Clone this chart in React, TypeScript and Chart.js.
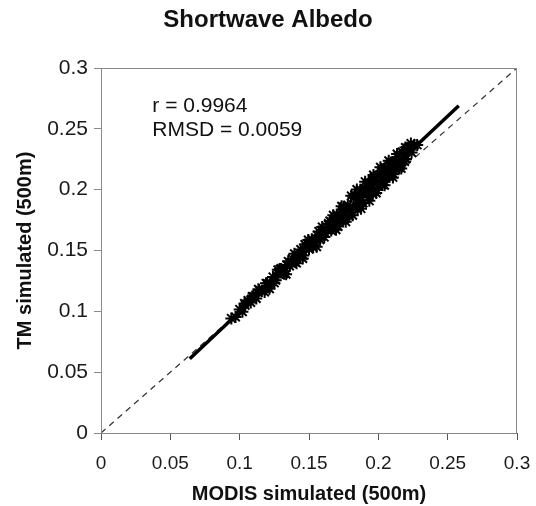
import React, { useEffect, useRef } from "react";
import { Chart, registerables } from "chart.js";

Chart.register(...registerables);

const TITLE = "Shortwave Albedo";
const X_TITLE = "MODIS simulated (500m)";
const Y_TITLE = "TM simulated (500m)";
const STATS = ["r = 0.9964", "RMSD = 0.0059"];
const AXIS_MIN = 0;
const AXIS_MAX = 0.3;
const AXIS_STEP = 0.05;

// scatter samples (MODIS simulated, TM simulated)
const MODIS = [
  0.094, 0.097, 0.1, 0.102, 0.104, 0.106, 0.108, 0.11, 0.112, 0.114, 0.116, 0.118,
  0.12, 0.122, 0.124, 0.126, 0.128, 0.13, 0.132, 0.134, 0.136, 0.138, 0.14, 0.142,
  0.144, 0.146, 0.148, 0.15, 0.152, 0.154, 0.156, 0.158, 0.16, 0.162, 0.164, 0.166,
  0.168, 0.17, 0.172, 0.174, 0.176, 0.178, 0.18, 0.182, 0.184, 0.186, 0.188, 0.19,
  0.192, 0.194, 0.196, 0.198, 0.2, 0.202, 0.204, 0.206, 0.208, 0.21, 0.212, 0.214,
  0.216, 0.218, 0.22, 0.222, 0.224, 0.226, 0.228,
  0.171, 0.175, 0.179, 0.183, 0.185, 0.187, 0.189, 0.191, 0.193, 0.195, 0.197, 0.199,
  0.201, 0.203, 0.205, 0.207, 0.209, 0.211, 0.213, 0.215, 0.217, 0.219, 0.221,
  0.135, 0.141, 0.147, 0.153, 0.157, 0.161, 0.165, 0.125, 0.129, 0.119, 0.109,
  0.1805, 0.1815, 0.1845, 0.1875, 0.1905, 0.1935, 0.1965, 0.1985, 0.2015, 0.2045, 0.2075,
  0.2105, 0.2135, 0.2165, 0.2195, 0.2235, 0.1735, 0.1765, 0.1695, 0.1675, 0.1595, 0.1555,
  0.1495, 0.1455, 0.1395, 0.1335, 0.1275, 0.1215, 0.1135, 0.1035,
];
const TM = [
  0.0942, 0.0954, 0.1016, 0.0997, 0.1049, 0.109, 0.1072, 0.1123, 0.1105, 0.1176, 0.1168, 0.1159,
  0.123, 0.1222, 0.1283, 0.1255, 0.1306, 0.1348, 0.1309, 0.138, 0.1372, 0.1433, 0.1405, 0.1456,
  0.1508, 0.1459, 0.1531, 0.1512, 0.1593, 0.1565, 0.1626, 0.1588, 0.1659, 0.1641, 0.1722, 0.1664,
  0.1735, 0.1796, 0.1738, 0.1819, 0.1761, 0.1872, 0.1834, 0.1935, 0.1856, 0.1938, 0.1889, 0.2011,
  0.1962, 0.2044, 0.1965, 0.2077, 0.2038, 0.2149, 0.2071, 0.2152, 0.2104, 0.2215, 0.2177, 0.2268,
  0.22, 0.2291, 0.2252, 0.2344, 0.2305, 0.2367, 0.2368,
  0.1697, 0.186, 0.1783, 0.1956, 0.1837, 0.1999, 0.189, 0.2002, 0.2063, 0.1974, 0.2106, 0.1997,
  0.2119, 0.204, 0.2182, 0.2113, 0.2224, 0.2126, 0.2237, 0.2179, 0.231, 0.2232, 0.2343,
  0.1411, 0.1396, 0.155, 0.1524, 0.1657, 0.161, 0.1743, 0.1234, 0.1347, 0.123, 0.1122,
  0.1949, 0.179, 0.2002, 0.1844, 0.2066, 0.1908, 0.212, 0.1972, 0.2184, 0.2036, 0.2238,
  0.2101, 0.2293, 0.2175, 0.2347, 0.238, 0.1864, 0.1736, 0.1671, 0.179, 0.1694, 0.1531,
  0.1587, 0.1434, 0.1474, 0.1305, 0.1341, 0.1186, 0.1181, 0.1064,
];

// regression line end points
const FIT_X = [0.064, 0.258];
const FIT_Y = [0.061, 0.269];
// 1:1 line
const ONE_X = [0, 0.3];
const ONE_Y = [0, 0.3];

const FONT = "'Liberation Sans', Arial, sans-serif";

export default function App() {
  const ref = useRef<HTMLCanvasElement | null>(null);

  useEffect(() => {
    if (!ref.current) return;

    const overlay = {
      id: "overlay",
      afterDraw(chart: any) {
        const { ctx, chartArea } = chart;
        ctx.save();
        ctx.strokeStyle = "#8a8a8a";
        ctx.lineWidth = 1;
        ctx.strokeRect(chartArea.left + 0.5, chartArea.top + 0.5, chartArea.right - chartArea.left - 1, chartArea.bottom - chartArea.top);
        ctx.fillStyle = "#111";
        ctx.textAlign = "center";
        ctx.textBaseline = "middle";
        ctx.font = `bold 24px ${FONT}`;
        ctx.fillText(TITLE, 268, 20);
        ctx.font = `21px ${FONT}`;
        ctx.textAlign = "left";
        const xs = chart.scales.x;
        const ys = chart.scales.y;
        const tx = xs.getPixelForValue(0.037);
        ctx.fillText(STATS[0], tx, ys.getPixelForValue(0.2688));
        ctx.fillText(STATS[1], tx, ys.getPixelForValue(0.249));
        ctx.restore();
      },
    };

    const fmt = (v: any) => String(parseFloat(Number(v).toFixed(2)));

    const chart = new Chart(ref.current, {
      type: "scatter",
      data: {
        datasets: [
          {
            type: "scatter",
            data: MODIS.map((x, i) => ({ x, y: TM[i] })),
            pointStyle: "star",
            pointRadius: 6,
            pointBorderWidth: 2,
            borderColor: "#000",
            backgroundColor: "#000",
          } as any,
          {
            type: "line",
            data: FIT_X.map((x, i) => ({ x, y: FIT_Y[i] })),
            borderColor: "#000",
            borderWidth: 3.5,
            pointRadius: 0,
            borderCapStyle: "butt",
          } as any,
          {
            type: "line",
            data: ONE_X.map((x, i) => ({ x, y: ONE_Y[i] })),
            borderColor: "#333",
            borderWidth: 1.2,
            borderDash: [6, 5],
            pointRadius: 0,
          } as any,
        ],
      },
      options: {
        animation: false,
        responsive: false,
        events: [],
        layout: { padding: { top: 68, right: 19, bottom: 0, left: 0 } },
        plugins: { legend: { display: false }, tooltip: { enabled: false }, title: { display: false } },
        scales: {
          x: {
            type: "linear",
            min: AXIS_MIN,
            max: AXIS_MAX,
            afterFit: (s: any) => { s.height = 73; s.paddingRight = 0; s.paddingLeft = 0; },
            ticks: { stepSize: AXIS_STEP, callback: fmt, color: "#1a1a1a", font: { family: FONT, size: 19 }, padding: 12, maxRotation: 0 },
            grid: { drawOnChartArea: false, tickLength: 7, color: "#555" },
            border: { color: "#555" },
            title: { display: true, text: X_TITLE, color: "#111", font: { family: FONT, size: 20, weight: "bold" }, padding: { top: 4, bottom: 0 } },
          },
          y: {
            type: "linear",
            min: AXIS_MIN,
            max: AXIS_MAX,
            afterFit: (s: any) => { s.width = 101; },
            ticks: { stepSize: AXIS_STEP, callback: fmt, color: "#1a1a1a", font: { family: FONT, size: 21 }, padding: 6 },
            grid: { drawOnChartArea: false, tickLength: 7, color: "#8a8a8a" },
            border: { color: "#8a8a8a" },
            title: { display: true, text: Y_TITLE, color: "#111", font: { family: FONT, size: 20, weight: "bold" }, padding: { top: 13, bottom: 4 } },
          },
        },
      } as any,
      plugins: [overlay],
    });

    return () => chart.destroy();
  }, []);

  return (
    <div style={{ position: "fixed", left: 0, top: 0, width: 536, height: 506, background: "#fff" }}>
      <canvas ref={ref} width={536} height={506} style={{ width: 536, height: 506, display: "block" }} />
    </div>
  );
}
